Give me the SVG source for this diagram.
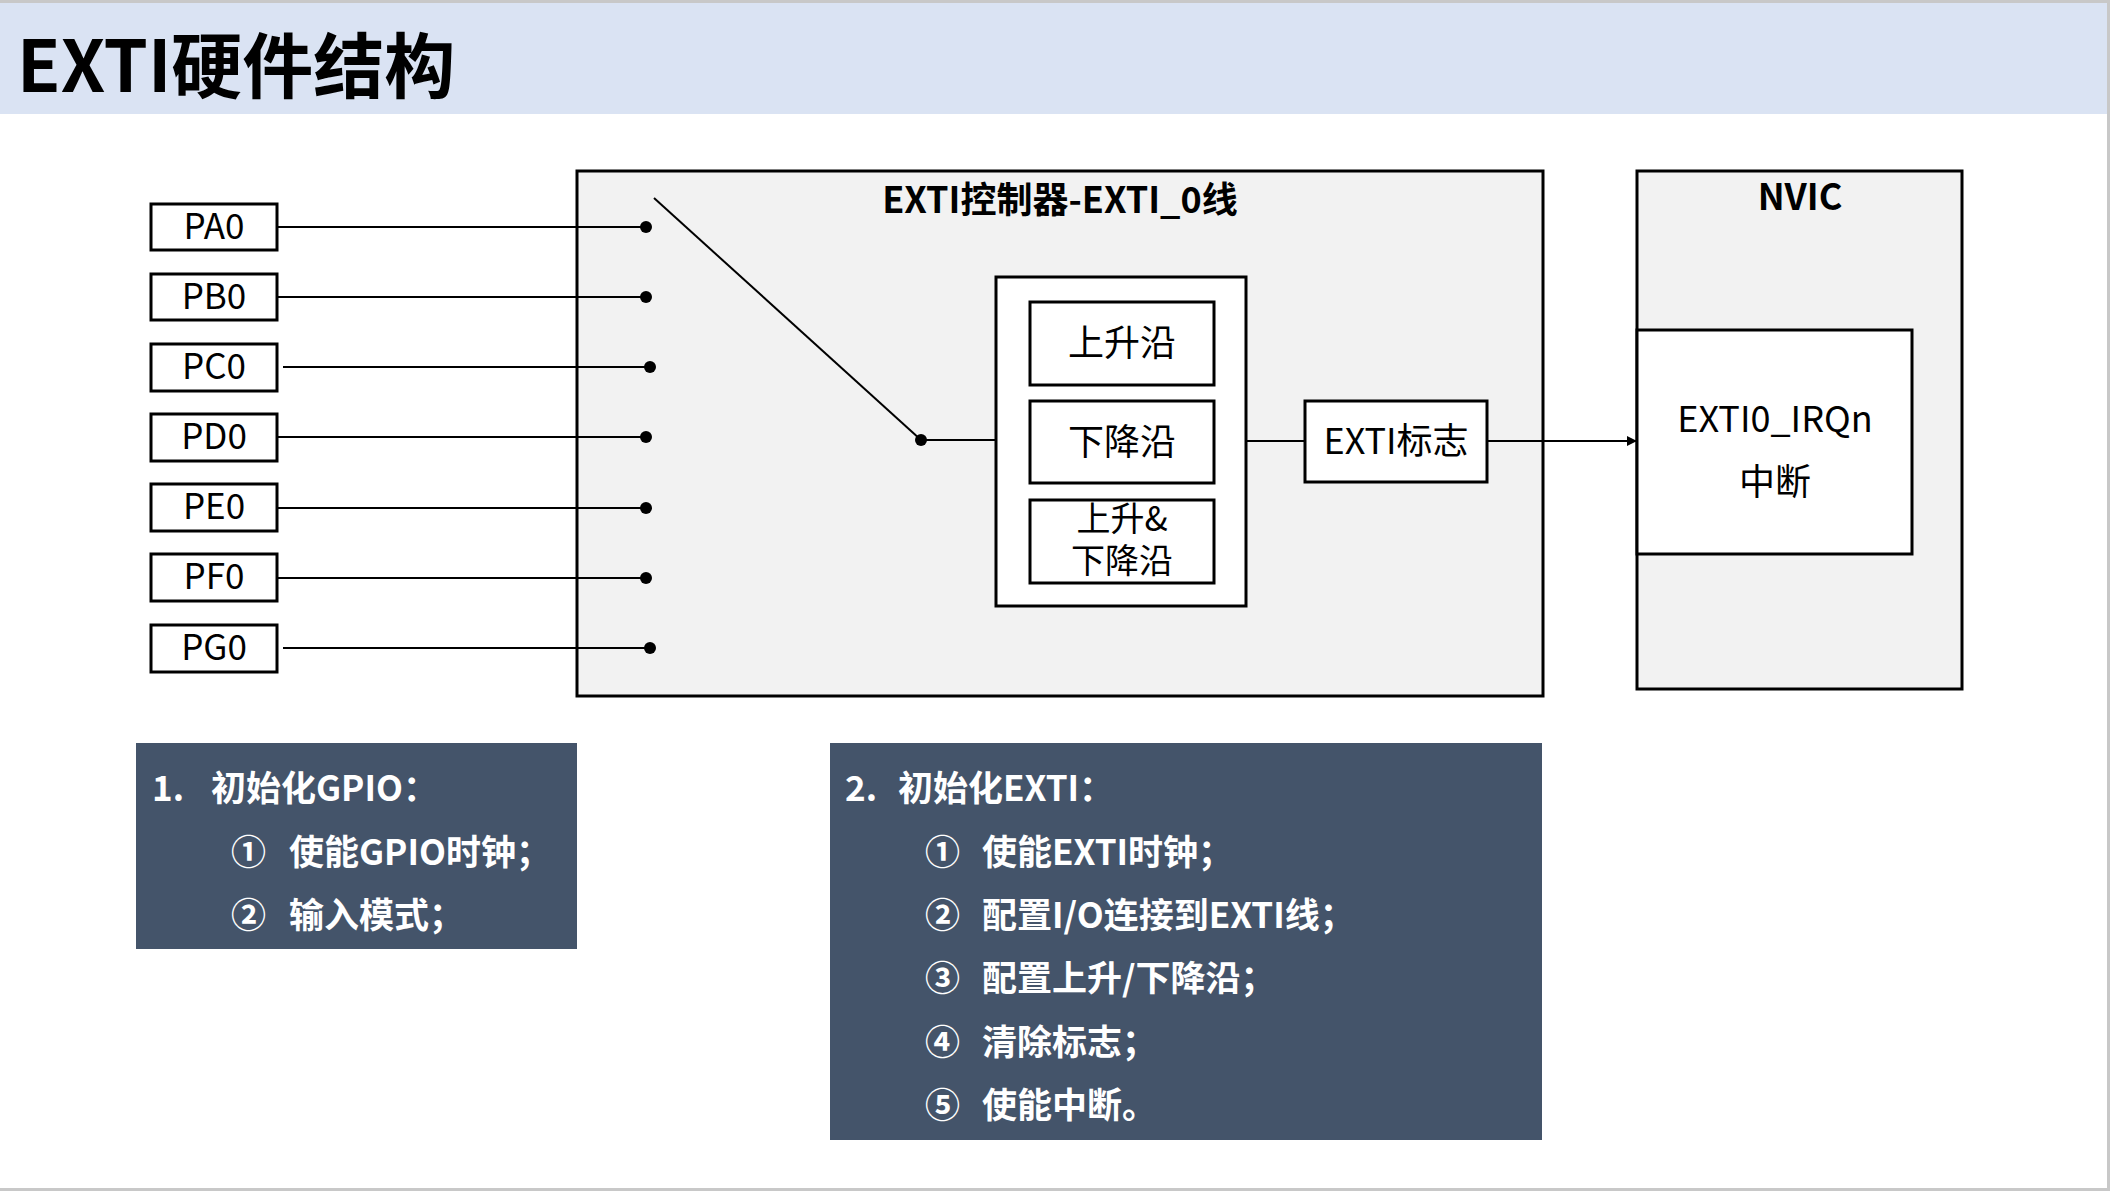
<svg xmlns="http://www.w3.org/2000/svg" width="2110" height="1191" viewBox="0 0 2110 1191">
<style>
text{font-family:"Noto Sans CJK SC","Noto Sans",sans-serif;fill:#000}
.box{fill:#fff;stroke:#000;stroke-width:3}
.panel{fill:#F2F2F2;stroke:#000;stroke-width:3}
.pin{font-size:35px;text-anchor:middle}
.lbl{font-size:36px;text-anchor:middle}
.lbl2{font-size:34px;text-anchor:middle}
.ttl{font-size:36px;font-weight:bold;text-anchor:middle}
.wire{stroke:#000;stroke-width:2;fill:none}
.dark{fill:#44546A}
.st{font-size:35px;font-weight:bold;fill:#fff}
</style>
<defs>
<marker id="arr" viewBox="0 0 10 10" refX="10" refY="5" markerWidth="12" markerHeight="10" markerUnits="userSpaceOnUse" orient="auto"><path d="M0,0 L10,5 L0,10 z" fill="#000"/></marker>
</defs>
<rect x="0" y="0" width="2110" height="1191" fill="#fff"/>
<rect x="0" y="0" width="2110" height="114" fill="#DAE3F3"/>
<rect x="0" y="0" width="2110" height="3" fill="#C8C8C8"/>
<rect x="2107" y="0" width="3" height="1191" fill="#C8C8C8"/>
<rect x="0" y="1188" width="2110" height="3" fill="#C8C8C8"/>
<text x="17" y="92" font-size="71" font-weight="bold">EXTI硬件结构</text>

<g id="exti-controller">
<rect class="panel" x="577" y="171" width="966" height="525"/>
<text class="ttl" x="1060" y="213">EXTI控制器-EXTI_0线</text>
</g>
<g id="nvic">
<rect class="panel" x="1637" y="171" width="325" height="518"/>
<text class="ttl" x="1800" y="210">NVIC</text>
</g>
<g id="nvic-irq">
<rect class="box" x="1637" y="330" width="275" height="224"/>
<text class="lbl" x="1775" y="432">EXTI0_IRQn</text>
<text class="lbl" x="1775" y="495">中断</text>
</g>
<g id="edge-select">
<rect class="box" x="996" y="277" width="250" height="329"/>
</g>
<g id="rising">
<rect class="box" x="1030" y="302" width="184" height="83"/>
<text class="lbl" x="1122" y="356">上升沿</text>
</g>
<g id="falling">
<rect class="box" x="1030" y="401" width="184" height="82"/>
<text class="lbl" x="1122" y="455">下降沿</text>
</g>
<g id="both">
<rect class="box" x="1030" y="500" width="184" height="83"/>
<text class="lbl2" x="1122" y="531"><tspan x="1122" y="531">上升&amp;</tspan><tspan x="1122" y="573">下降沿</tspan></text>
</g>
<g id="exti-flag">
<rect class="box" x="1305" y="401" width="182" height="81"/>
<text class="lbl" x="1396" y="454">EXTI标志</text>
</g>

<g id="pa0"><rect class="box" x="151" y="204" width="126" height="46"/><text class="pin" x="214" y="239">PA0</text></g>
<g id="pb0"><rect class="box" x="151" y="274" width="126" height="46"/><text class="pin" x="214" y="309">PB0</text></g>
<g id="pc0"><rect class="box" x="151" y="344" width="126" height="47"/><text class="pin" x="214" y="379">PC0</text></g>
<g id="pd0"><rect class="box" x="151" y="414" width="126" height="47"/><text class="pin" x="214" y="449">PD0</text></g>
<g id="pe0"><rect class="box" x="151" y="484" width="126" height="47"/><text class="pin" x="214" y="519">PE0</text></g>
<g id="pf0"><rect class="box" x="151" y="554" width="126" height="47"/><text class="pin" x="214" y="589">PF0</text></g>
<g id="pg0"><rect class="box" x="151" y="625" width="126" height="47"/><text class="pin" x="214" y="660">PG0</text></g>

<g id="connectors">
<line class="wire" x1="277" y1="227" x2="646" y2="227"/>
<line class="wire" x1="277" y1="297" x2="646" y2="297"/>
<line class="wire" x1="283" y1="367" x2="650" y2="367"/>
<line class="wire" x1="277" y1="437" x2="646" y2="437"/>
<line class="wire" x1="277" y1="508" x2="646" y2="508"/>
<line class="wire" x1="277" y1="578" x2="646" y2="578"/>
<line class="wire" x1="283" y1="648" x2="650" y2="648"/>
<g fill="#000">
<circle cx="646" cy="227" r="6"/>
<circle cx="646" cy="297" r="6"/>
<circle cx="650" cy="367" r="6"/>
<circle cx="646" cy="437" r="6"/>
<circle cx="646" cy="508" r="6"/>
<circle cx="646" cy="578" r="6"/>
<circle cx="650" cy="648" r="6"/>
<circle cx="921" cy="440" r="6"/>
</g>
<line class="wire" x1="654" y1="198" x2="921" y2="440"/>
<line class="wire" x1="921" y1="440" x2="996" y2="440"/>
<line class="wire" x1="1246" y1="441" x2="1305" y2="441"/>
<line class="wire" x1="1487" y1="441" x2="1637" y2="441" marker-end="url(#arr)"/>
</g>

<g id="step1">
<rect class="dark" x="136" y="743" width="441" height="206"/>
<text class="st" x="152" y="801">1.</text>
<text class="st" x="211" y="801">初始化GPIO：</text>
<text class="st" x="231" y="865">①</text>
<text class="st" x="289" y="865">使能GPIO时钟；</text>
<text class="st" x="231" y="928">②</text>
<text class="st" x="289" y="928">输入模式；</text>
</g>
<g id="step2">
<rect class="dark" x="830" y="743" width="712" height="397"/>
<text class="st" x="845" y="801">2.</text>
<text class="st" x="898" y="801">初始化EXTI：</text>
<text class="st" x="925" y="865">①</text>
<text class="st" x="982" y="865">使能EXTI时钟；</text>
<text class="st" x="925" y="928">②</text>
<text class="st" x="982" y="928">配置I/O连接到EXTI线；</text>
<text class="st" x="925" y="991">③</text>
<text class="st" x="982" y="991">配置上升/下降沿；</text>
<text class="st" x="925" y="1055">④</text>
<text class="st" x="982" y="1055">清除标志；</text>
<text class="st" x="925" y="1118">⑤</text>
<text class="st" x="982" y="1118">使能中断。</text>
</g>
</svg>
